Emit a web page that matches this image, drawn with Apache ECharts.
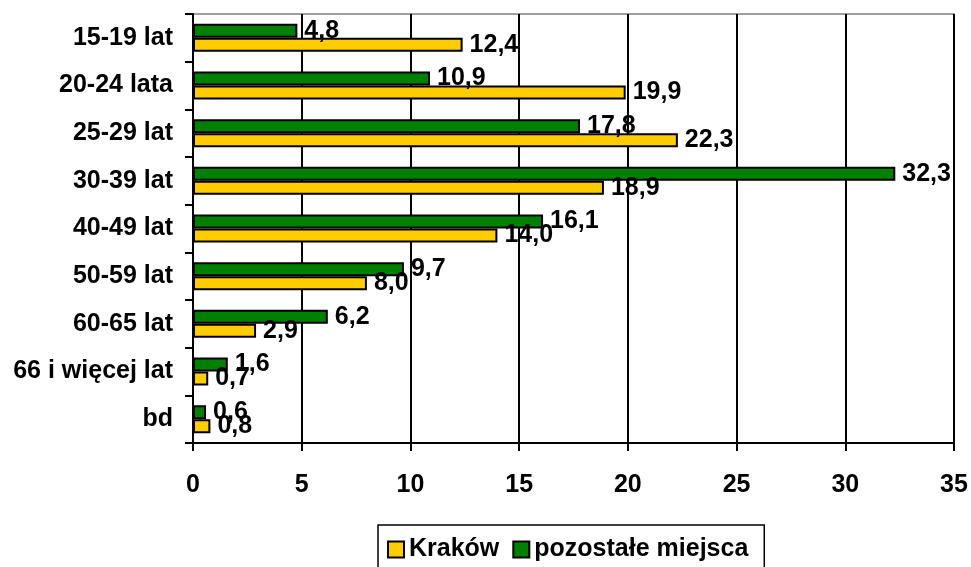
<!DOCTYPE html>
<html>
<head>
<meta charset="utf-8">
<script src="https://cdn.jsdelivr.net/npm/echarts@6/dist/echarts.min.js"></script>
<style>
html, body { margin: 0; padding: 0; background: #fff; }
#container { width: 971px; height: 567px; }
</style>
</head>
<body>
<div id="container"></div>
<script>
var categories = ['15-19 lat', '20-24 lata', '25-29 lat', '30-39 lat', '40-49 lat', '50-59 lat', '60-65 lat', '66 i więcej lat', 'bd'];
var krakow = [12.4, 19.9, 22.3, 18.9, 14.0, 8.0, 2.9, 0.7, 0.8];
var pozostale = [4.8, 10.9, 17.8, 32.3, 16.1, 9.7, 6.2, 1.6, 0.6];
var xTicks = [0, 5, 10, 15, 20, 25, 30, 35];

var font = 'Liberation Sans, Arial, sans-serif';
var myChart = echarts.init(document.getElementById('container'));

function lbl(p) {
	return p.value.toFixed(1).replace('.', ',');
}

myChart.setOption({
	animation: false,
	textStyle: { fontFamily: font },
	legend: {
		data: ['Kraków', 'pozostałe miejsca'],
		left: 378,
		top: 525,
		padding: [12, 16, 12, 9],
		itemWidth: 16,
		itemHeight: 16,
		itemGap: 13,
		icon: 'rect',
		borderColor: '#000',
		borderWidth: 1.5,
		textStyle: { fontSize: 25, fontWeight: 'bold', color: '#000', fontFamily: font }
	},
	grid: {
		left: 193,
		right: 17,
		top: 14,
		bottom: 124,
		show: true,
		borderColor: '#808080',
		borderWidth: 1.5
	},
	xAxis: {
		type: 'value',
		min: xTicks[0],
		max: xTicks[xTicks.length - 1],
		interval: 5,
		axisLine: { show: true, lineStyle: { color: '#000', width: 2 } },
		axisTick: { show: true, length: 8, lineStyle: { color: '#000', width: 2 } },
		splitLine: { show: true, lineStyle: { color: '#000', width: 2 } },
		axisLabel: { margin: 30, fontSize: 25, fontWeight: 'bold', color: '#000', fontFamily: font }
	},
	yAxis: {
		type: 'category',
		inverse: true,
		data: categories,
		axisLine: { show: true, lineStyle: { color: '#000', width: 2 } },
		axisTick: { show: true, length: 8, lineStyle: { color: '#000', width: 2 } },
		axisLabel: { margin: 20, fontSize: 25, fontWeight: 'bold', color: '#000', fontFamily: font }
	},
	series: [
		{
			name: 'pozostałe miejsca',
			type: 'bar',
			data: pozostale,
			barWidth: 14,
			barGap: '0%',
			itemStyle: { color: '#008000', borderColor: '#000', borderWidth: 2 },
			label: { show: true, position: 'right', distance: 7, formatter: lbl, fontSize: 25, fontWeight: 'bold', color: '#000', fontFamily: font }
		},
		{
			name: 'Kraków',
			type: 'bar',
			data: krakow,
			barWidth: 14,
			barGap: '0%',
			itemStyle: { color: '#FFCC00', borderColor: '#000', borderWidth: 2 },
			label: { show: true, position: 'right', distance: 7, formatter: lbl, fontSize: 25, fontWeight: 'bold', color: '#000', fontFamily: font }
		}
	]
});
</script>
</body>
</html>
